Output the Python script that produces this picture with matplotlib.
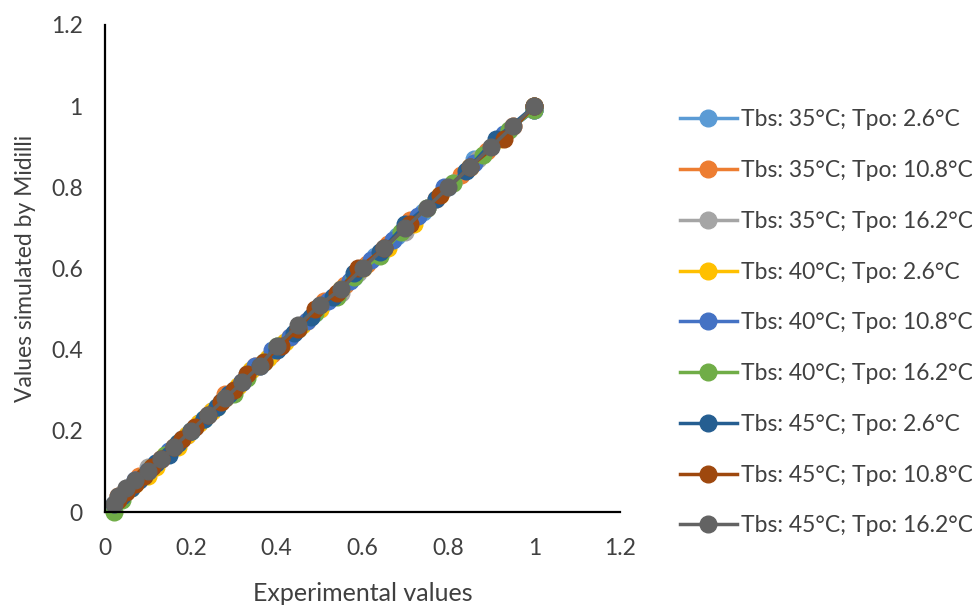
import matplotlib
matplotlib.use("Agg")
import matplotlib.pyplot as plt

plt.rcParams['font.family'] = ['Lato', 'DejaVu Sans']

labels = ['Tbs: 35°C; Tpo: 2.6°C', 'Tbs: 35°C; Tpo: 10.8°C', 'Tbs: 35°C; Tpo: 16.2°C',
          'Tbs: 40°C; Tpo: 2.6°C', 'Tbs: 40°C; Tpo: 10.8°C', 'Tbs: 40°C; Tpo: 16.2°C',
          'Tbs: 45°C; Tpo: 2.6°C', 'Tbs: 45°C; Tpo: 10.8°C', 'Tbs: 45°C; Tpo: 16.2°C']
colors = ['#5B9BD5', '#ED7D31', '#A5A5A5', '#FFC000', '#4472C4',
          '#70AD47', '#255E91', '#9E480E', '#636363']

# experimental (x) and simulated by Midilli (y) moisture ratios
exp_35_26 = [1.0, 0.93, 0.86, 0.80, 0.74, 0.68, 0.63, 0.58, 0.53, 0.49, 0.45, 0.41, 0.37,
             0.33, 0.30, 0.27, 0.24, 0.21, 0.18, 0.15, 0.12, 0.10, 0.08, 0.06, 0.04]
sim_35_26 = [0.99, 0.93, 0.87, 0.80, 0.74, 0.68, 0.63, 0.58, 0.53, 0.49, 0.45, 0.41, 0.37,
             0.34, 0.30, 0.27, 0.24, 0.21, 0.18, 0.15, 0.12, 0.10, 0.08, 0.06, 0.04]
exp_35_108 = [1.0, 0.95, 0.89, 0.83, 0.77, 0.71, 0.66, 0.61, 0.56, 0.51, 0.47, 0.43, 0.39,
              0.35, 0.32, 0.28, 0.25, 0.22, 0.19, 0.16, 0.13, 0.11, 0.08, 0.06, 0.03]
sim_35_108 = [1.0, 0.95, 0.89, 0.83, 0.77, 0.72, 0.66, 0.61, 0.56, 0.52, 0.47, 0.43, 0.39,
              0.36, 0.32, 0.29, 0.25, 0.22, 0.19, 0.16, 0.13, 0.11, 0.09, 0.06, 0.04]
exp_35_162 = [1.0, 0.94, 0.87, 0.81, 0.75, 0.70, 0.64, 0.59, 0.55, 0.50, 0.46, 0.42, 0.38,
              0.34, 0.31, 0.28, 0.25, 0.22, 0.19, 0.16, 0.13, 0.10, 0.08, 0.05, 0.03]
sim_35_162 = [0.99, 0.94, 0.87, 0.81, 0.75, 0.69, 0.64, 0.59, 0.54, 0.50, 0.46, 0.42, 0.38,
              0.35, 0.31, 0.28, 0.25, 0.22, 0.19, 0.16, 0.13, 0.11, 0.08, 0.06, 0.03]
exp_40_26 = [1.0, 0.92, 0.85, 0.78, 0.72, 0.66, 0.60, 0.55, 0.50, 0.46, 0.42, 0.38, 0.34,
             0.31, 0.28, 0.25, 0.22, 0.19, 0.17, 0.14, 0.12, 0.10, 0.07, 0.05, 0.03]
sim_40_26 = [1.0, 0.92, 0.85, 0.78, 0.71, 0.65, 0.60, 0.55, 0.50, 0.46, 0.42, 0.38, 0.35,
             0.31, 0.28, 0.25, 0.22, 0.19, 0.16, 0.14, 0.11, 0.09, 0.07, 0.05, 0.03]
exp_40_108 = [1.0, 0.93, 0.86, 0.79, 0.73, 0.67, 0.62, 0.57, 0.52, 0.47, 0.43, 0.39, 0.35,
              0.32, 0.29, 0.26, 0.23, 0.20, 0.17, 0.15, 0.12, 0.10, 0.07, 0.05, 0.03]
sim_40_108 = [0.99, 0.93, 0.86, 0.80, 0.73, 0.67, 0.62, 0.57, 0.52, 0.47, 0.43, 0.40, 0.36,
              0.32, 0.29, 0.26, 0.23, 0.20, 0.17, 0.15, 0.12, 0.10, 0.08, 0.05, 0.03]
exp_40_162 = [1.0, 0.94, 0.88, 0.81, 0.75, 0.69, 0.64, 0.58, 0.54, 0.49, 0.45, 0.40, 0.37,
              0.33, 0.30, 0.26, 0.23, 0.20, 0.17, 0.14, 0.11, 0.09, 0.06, 0.04, 0.02]
sim_40_162 = [0.99, 0.94, 0.88, 0.81, 0.75, 0.69, 0.63, 0.58, 0.53, 0.49, 0.45, 0.41, 0.37,
              0.33, 0.29, 0.26, 0.23, 0.20, 0.17, 0.14, 0.11, 0.09, 0.06, 0.03, 0.0]
exp_45_26 = [1.0, 0.91, 0.84, 0.77, 0.70, 0.64, 0.58, 0.53, 0.48, 0.44, 0.40, 0.36, 0.32,
             0.29, 0.26, 0.23, 0.20, 0.17, 0.15, 0.12, 0.10, 0.08, 0.06, 0.04, 0.02]
sim_45_26 = [1.0, 0.92, 0.84, 0.77, 0.71, 0.64, 0.59, 0.53, 0.48, 0.44, 0.40, 0.36, 0.32,
             0.29, 0.26, 0.23, 0.20, 0.17, 0.14, 0.12, 0.10, 0.08, 0.06, 0.04, 0.02]
exp_45_108 = [1.0, 0.93, 0.85, 0.78, 0.71, 0.65, 0.59, 0.54, 0.49, 0.45, 0.41, 0.37, 0.33,
              0.30, 0.27, 0.24, 0.21, 0.18, 0.16, 0.13, 0.11, 0.09, 0.07, 0.05, 0.03]
sim_45_108 = [1.0, 0.92, 0.85, 0.78, 0.71, 0.65, 0.60, 0.54, 0.50, 0.45, 0.41, 0.37, 0.34,
              0.30, 0.27, 0.24, 0.21, 0.18, 0.16, 0.13, 0.11, 0.09, 0.07, 0.05, 0.03]
exp_45_162 = [1.0, 0.95, 0.90, 0.85, 0.80, 0.75, 0.70, 0.65, 0.60, 0.55, 0.50, 0.45, 0.40,
              0.36, 0.32, 0.28, 0.24, 0.20, 0.16, 0.13, 0.10, 0.07, 0.05, 0.03, 0.02]
sim_45_162 = [1.0, 0.95, 0.90, 0.85, 0.80, 0.75, 0.70, 0.65, 0.60, 0.55, 0.51, 0.46, 0.41,
              0.36, 0.32, 0.28, 0.24, 0.20, 0.16, 0.13, 0.10, 0.08, 0.06, 0.04, 0.02]

exp_all = [exp_35_26, exp_35_108, exp_35_162, exp_40_26, exp_40_108,
           exp_40_162, exp_45_26, exp_45_108, exp_45_162]
sim_all = [sim_35_26, sim_35_108, sim_35_162, sim_40_26, sim_40_108,
           sim_40_162, sim_45_26, sim_45_108, sim_45_162]

fig = plt.figure(figsize=(9.72, 6.06), dpi=100)
ax = fig.add_axes([0.108, 0.155, 0.53, 0.804])

for x, y, c, lab in zip(exp_all, sim_all, colors, labels):
    ax.plot(x, y, color=c, lw=2.5, marker='o', markersize=12, label=lab, clip_on=False)

ax.set_xlim(0, 1.2)
ax.set_ylim(0, 1.2)
ticks = [0, 0.2, 0.4, 0.6, 0.8, 1, 1.2]
ticklabels = ['0', '0.2', '0.4', '0.6', '0.8', '1', '1.2']
ax.set_xticks(ticks, ticklabels)
ax.set_yticks(ticks, ticklabels)
ax.tick_params(length=0, labelsize=16.5, labelcolor='#404040')
ax.tick_params(axis='x', pad=19)
ax.tick_params(axis='y', pad=16)
for s in ['top', 'right']:
    ax.spines[s].set_visible(False)
for s in ['left', 'bottom']:
    ax.spines[s].set_linewidth(1.6)
    ax.spines[s].set_color('black')

ax.set_xlabel('Experimental values', fontsize=18, color='#404040', labelpad=16)
ax.set_ylabel('Values simulated by Midilli', fontsize=16.5, color='#404040', labelpad=11)

fig.legend(loc='upper left', bbox_to_anchor=(0.69, 0.835), frameon=False,
           fontsize=16.5, handlelength=2.5, labelspacing=1.3, handletextpad=0.15,
           labelcolor='#404040', borderaxespad=0)

fig.savefig('out.png', dpi=100)
